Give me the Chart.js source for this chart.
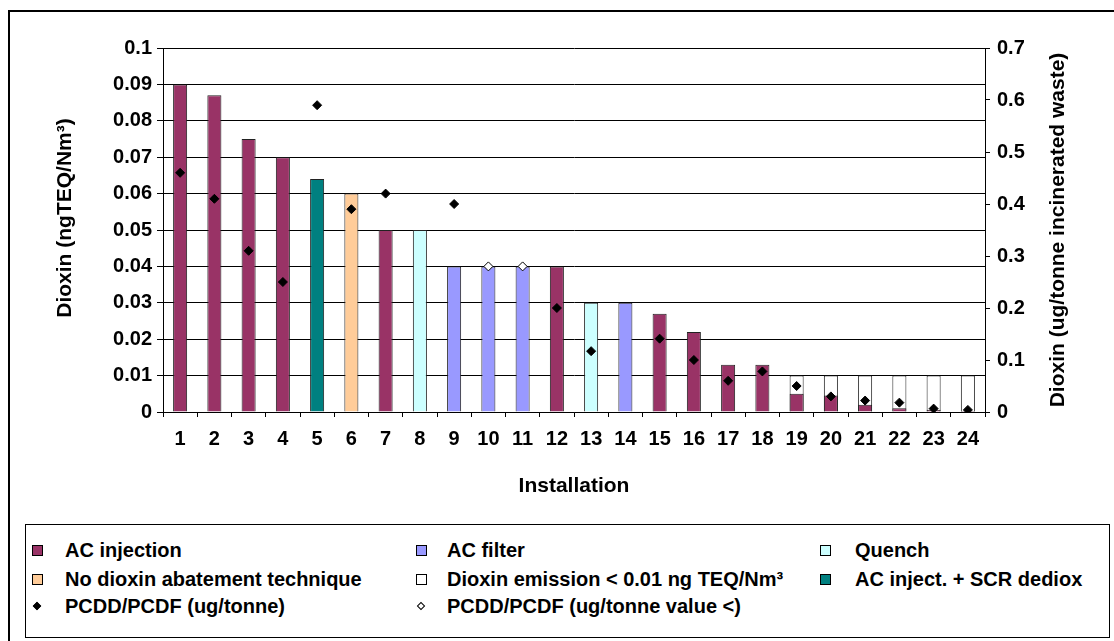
<!DOCTYPE html>
<html>
<head>
<meta charset="utf-8">
<script src="https://cdn.jsdelivr.net/npm/chart.js@4.4.1/dist/chart.umd.min.js"></script>
<style>
  html, body { margin: 0; padding: 0; background: #fff; overflow: hidden; }
  #wrap { position: relative; width: 1114px; height: 641px; overflow: hidden; }
  #frame { position: absolute; left: 8px; top: 10px; width: 1200px; height: 700px; border: 2px solid #000; }
  #chart { position: absolute; left: 0; top: 0; }
  #legend {
    position: absolute; left: 25px; top: 524px; width: 1085px; height: 114px;
    border: 1px solid #000; box-sizing: border-box; background: #fff;
    font: bold 20px "Liberation Sans", Arial, sans-serif; color: #000;
  }
  .mark { position: absolute; box-sizing: border-box; border: 1px solid #000; }
  .txt { position: absolute; white-space: nowrap; line-height: 24px; }
</style>
</head>
<body>
<div id="wrap">
  <div id="frame"></div>
  <canvas id="chart" width="1114" height="641"></canvas>
  <div id="legend"></div>
</div>
<script>
// installations on the x axis
const installations = ['1', '2', '3', '4', '5', '6', '7', '8', '9', '10', '11', '12',
  '13', '14', '15', '16', '17', '18', '19', '20', '21', '22', '23', '24'];

// dioxin emission, ngTEQ/Nm3 (left axis), one array per abatement technique
const acInjection = [0.09, 0.087, 0.075, 0.07, null, null, 0.05, null, null, null, null, 0.04,
  null, null, 0.027, 0.022, 0.013, 0.013, 0.005, 0.0045, 0.002, 0.001, 0.0006, 0.0003];
const acFilter = [null, null, null, null, null, null, null, null, 0.04, 0.04, 0.04, null,
  null, 0.03, null, null, null, null, null, null, null, null, null, null];
const quench = [null, null, null, null, null, null, null, 0.05, null, null, null, null,
  0.03, null, null, null, null, null, null, null, null, null, null, null];
const noAbatement = [null, null, null, null, null, 0.06, null, null, null, null, null, null,
  null, null, null, null, null, null, null, null, null, null, null, null];
const belowLimit = [null, null, null, null, null, null, null, null, null, null, null, null,
  null, null, null, null, null, null, 0.01, 0.01, 0.01, 0.01, 0.01, 0.01];
const acInjectScr = [null, null, null, null, 0.064, null, null, null, null, null, null, null,
  null, null, null, null, null, null, null, null, null, null, null, null];

// PCDD/PCDF, ug/tonne incinerated waste (right axis)
const pcddTonne = [0.46, 0.41, 0.31, 0.25, 0.59, 0.39, 0.42, null, 0.40, null, null, 0.20,
  0.117, null, 0.141, 0.10, 0.06, 0.078, 0.05, 0.03, 0.022, 0.018, 0.0065, 0.004];
const pcddTonneBelow = [null, null, null, null, null, null, null, null, null, 0.28, 0.28, null,
  null, null, null, null, null, null, null, null, null, null, null, null];

const leftTickLabels = ['0', '0.01', '0.02', '0.03', '0.04', '0.05', '0.06', '0.07', '0.08', '0.09', '0.1'];
const rightTickLabels = ['0', '0.1', '0.2', '0.3', '0.4', '0.5', '0.6', '0.7'];

const FONT = '"Liberation Sans", Arial, sans-serif';
Chart.defaults.font.family = FONT;
Chart.defaults.font.weight = 'bold';
Chart.defaults.font.size = 20;
Chart.defaults.color = '#000';

function barSet(label, data, color, order) {
  return {
    type: 'bar', label, data, backgroundColor: color,
    borderColor: '#222', borderWidth: 1, grouped: false,
    barPercentage: 0.41, categoryPercentage: 1, yAxisID: 'y', order
  };
}

function pointSet(label, data, fill) {
  return {
    type: 'line', label, data, showLine: false, yAxisID: 'y1', order: 0,
    pointStyle: 'rectRot', pointRadius: 4.5, pointBackgroundColor: fill,
    pointBorderColor: '#000', pointBorderWidth: 1, backgroundColor: fill, borderColor: '#000'
  };
}

// rotated axis titles (both read bottom to top)
const axisTitles = {
  id: 'axisTitles',
  afterDraw(chart) {
    const { ctx, chartArea } = chart;
    const mid = (chartArea.top + chartArea.bottom) / 2;
    ctx.save();
    ctx.font = 'bold 21px ' + FONT;
    ctx.fillStyle = '#000';
    ctx.textAlign = 'center';
    ctx.textBaseline = 'middle';
    [[chart.scales.y.left + 65, mid - 12, 'Dioxin (ngTEQ/Nm³)'],
     [chart.scales.y1.right - 56, mid, 'Dioxin (ug/tonne incinerated waste)']].forEach(([x, y, t]) => {
      ctx.save();
      ctx.translate(x, y);
      ctx.rotate(-Math.PI / 2);
      ctx.fillText(t, 0, 0);
      ctx.restore();
    });
    ctx.restore();
  }
};

const chart = new Chart(document.getElementById('chart'), {
  data: {
    labels: installations,
    datasets: [
      barSet('AC injection', acInjection, '#993366', 1),
      barSet('AC filter', acFilter, '#9999FF', 1),
      barSet('Quench', quench, '#CCFFFF', 1),
      barSet('No dioxin abatement technique', noAbatement, '#FFCC99', 1),
      barSet('Dioxin emission < 0.01 ng TEQ/Nm³', belowLimit, '#FFFFFF', 2),
      barSet('AC inject. + SCR dediox', acInjectScr, '#008080', 1),
      pointSet('PCDD/PCDF (ug/tonne)', pcddTonne, '#000'),
      pointSet('PCDD/PCDF (ug/tonne value <)', pcddTonneBelow, '#fff')
    ]
  },
  options: {
    responsive: false,
    animation: false,
    layout: { padding: { left: 0, right: 0, top: 48, bottom: 138 } },
    plugins: { legend: { display: false }, tooltip: { enabled: false } },
    scales: {
      x: {
        offset: true,
        grid: { offset: true, drawOnChartArea: false, color: '#000', tickLength: 5 },
        border: { color: '#000' },
        ticks: { padding: 10, maxRotation: 0, autoSkip: false },
        title: { display: true, text: 'Installation', font: { size: 21, weight: 'bold' }, padding: { top: 4, bottom: 4 } },
        afterFit(scale) { scale.height = 91; }
      },
      y: {
        position: 'left', min: 0, max: 0.1,
        grid: { color: '#000', tickLength: 6 },
        border: { color: '#000' },
        ticks: { stepSize: 0.01, padding: 5, callback: (v, i) => leftTickLabels[i] },
        afterFit(scale) { scale.width = 163; }
      },
      y1: {
        position: 'right', min: 0, max: 0.7,
        grid: { drawOnChartArea: false, color: '#000', tickLength: 5 },
        border: { color: '#000' },
        ticks: { stepSize: 0.1, padding: 7, callback: (v, i) => rightTickLabels[i] },
        afterFit(scale) { scale.width = 129; }
      }
    }
  },
  plugins: [axisTitles]
});

// legend laid out in three columns, built from the chart's datasets
const legendBox = document.getElementById('legend');
const colMark = [6, 390, 794];
const colText = [39, 421, 829];
const rowMid = [25, 54, 81];
chart.data.datasets.forEach((ds, i) => {
  const col = i % 3, row = Math.floor(i / 3);
  const m = document.createElement('div');
  m.className = 'mark';
  if (ds.type === 'bar') {
    Object.assign(m.style, { left: colMark[col] + 'px', top: (rowMid[row] - 5) + 'px',
      width: '11px', height: '11px', background: ds.backgroundColor });
  } else {
    Object.assign(m.style, { left: (colMark[col] + 2) + 'px', top: (rowMid[row] - 3) + 'px',
      width: '6px', height: '6px', background: ds.backgroundColor, transform: 'rotate(45deg)' });
  }
  legendBox.appendChild(m);
  const t = document.createElement('div');
  t.className = 'txt';
  t.textContent = ds.label;
  Object.assign(t.style, { left: colText[col] + 'px', top: (rowMid[row] - 12) + 'px' });
  legendBox.appendChild(t);
});
</script>
</body>
</html>
